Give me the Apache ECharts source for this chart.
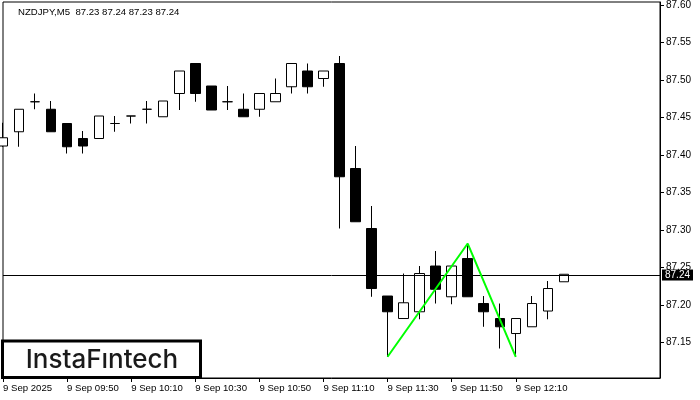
<!DOCTYPE html>
<html>
<head>
<meta charset="utf-8">
<script src="https://cdn.jsdelivr.net/npm/echarts@6/dist/echarts.min.js"></script>
<style>html,body{margin:0;padding:0;background:#fff}#c{width:700px;height:400px}</style>
</head>
<body>
<div id="c"></div>
<script>
var times = ['09:30','09:35','09:40','09:45','09:50','09:55','10:00','10:05','10:10','10:15','10:20','10:25',
  '10:30','10:35','10:40','10:45','10:50','10:55','11:00','11:05','11:10','11:15','11:20','11:25',
  '11:30','11:35','11:40','11:45','11:50','11:55','12:00','12:05','12:10','12:15','12:20','12:25'];
var opens  = [87.412,87.431,87.471,87.461,87.442,87.422,87.422,87.442,87.452,87.461,87.451,87.482,
  87.522,87.492,87.471,87.461,87.461,87.471,87.491,87.512,87.502,87.522,87.382,87.302,
  87.212,87.182,87.191,87.252,87.211,87.262,87.202,87.182,87.162,87.171,87.192,87.231];
var highs  = [87.443,87.461,87.482,87.472,87.442,87.432,87.452,87.452,87.452,87.472,87.472,87.512,
  87.522,87.492,87.492,87.482,87.482,87.502,87.522,87.522,87.512,87.532,87.412,87.332,
  87.212,87.242,87.252,87.272,87.252,87.282,87.212,87.202,87.182,87.212,87.232,87.241];
var lows   = [87.411,87.411,87.461,87.431,87.402,87.402,87.422,87.431,87.442,87.442,87.451,87.460,
  87.471,87.460,87.460,87.451,87.451,87.471,87.482,87.482,87.491,87.302,87.311,87.211,
  87.131,87.182,87.181,87.202,87.201,87.211,87.171,87.142,87.131,87.171,87.181,87.231];
var closes = [87.423,87.461,87.471,87.431,87.411,87.412,87.452,87.442,87.452,87.461,87.472,87.512,
  87.482,87.460,87.471,87.451,87.482,87.482,87.522,87.491,87.512,87.371,87.311,87.222,
  87.191,87.203,87.242,87.221,87.252,87.211,87.191,87.171,87.182,87.202,87.222,87.241];
var yTicks = [87.15,87.20,87.25,87.30,87.35,87.40,87.45,87.50,87.55,87.60];
var patternIdx = [24, 29, 32];
var symbolName = 'NZDJPY,M5';
var padCount = 6;

var cats = times.concat(new Array(padCount).fill(''));
var candleData = times.map(function(t, i){ return [opens[i], closes[i], lows[i], highs[i]]; });
var patternData = [[patternIdx[0], lows[patternIdx[0]]], [patternIdx[1], highs[patternIdx[1]]], [patternIdx[2], lows[patternIdx[2]]]];
var last = times.length - 1;
var titleText = symbolName + '  ' + opens[last].toFixed(2) + ' ' + highs[last].toFixed(2) + ' ' + lows[last].toFixed(2) + ' ' + closes[last].toFixed(2);
function showIdx(i){ return i % 4 === 0 && i < times.length; }

var chart = echarts.init(document.getElementById('c'), null, {renderer:'canvas'});
chart.setOption({
  animation: false,
  backgroundColor: '#fff',
  title: {text: titleText, left: 18, top: 7, padding: 0,
    textStyle: {fontSize: 9.6, fontWeight: 'normal', color: '#000', fontFamily: 'Liberation Sans'}},
  grid: {left: 3, right: 40, top: 2, bottom: 22, show: true, borderColor: '#000', borderWidth: 1, backgroundColor: '#fff'},
  xAxis: {type: 'category', data: cats, boundaryGap: false,
    axisLine: {lineStyle: {color: '#000', width: 1}},
    axisTick: {show: true, length: 4, interval: function(i){ return showIdx(i); }, lineStyle: {color: '#000'}},
    axisLabel: {interval: function(i){ return showIdx(i); }, align: 'left', margin: 5,
      color: '#000', fontSize: 9.6, fontFamily: 'Liberation Sans',
      formatter: function(v, i){ return i === 0 ? '9 Sep 2025' : '9 Sep ' + v; }},
    splitLine: {show: false}},
  yAxis: {type: 'value', position: 'right', min: 87.1027, max: 87.604, scale: true,
    axisLine: {show: true, lineStyle: {color: '#000'}},
    axisTick: {show: true, length: 4, customValues: yTicks, lineStyle: {color: '#000'}},
    axisLabel: {customValues: yTicks, margin: 6, color: '#000', fontSize: 10, fontFamily: 'Liberation Sans',
      formatter: function(v){ return v.toFixed(2); }},
    splitLine: {show: false}},
  graphic: [{type: 'group', z: 100, children: [
    {type: 'rect', shape: {x: 2.5, y: 341, width: 198, height: 36.5}, style: {fill: '#fff', stroke: '#000', lineWidth: 3}},
    {type: 'text', x: 102, y: 360, style: {text: 'InstaF\u0131ntech', font: '500 26px Inter', fill: '#1a1a1a', align: 'center', verticalAlign: 'middle'}}
  ]}],
  series: [
    {type: 'candlestick', data: candleData, barWidth: 10, clip: true,
      itemStyle: {color: '#fff', color0: '#000', borderColor: '#000', borderColor0: '#000', borderWidth: 1},
      markLine: {silent: true, symbol: ['none','none'],
        lineStyle: {color: '#000', type: 'solid', width: 1},
        label: {position: 'end', distance: 2, formatter: closes[last].toFixed(2), color: '#fff', backgroundColor: '#000',
          fontSize: 10, fontFamily: 'Liberation Sans', padding: [1, 3, 0, 3]},
        emphasis: {disabled: true},
        data: [{yAxis: closes[last]}]}},
    {type: 'line', data: patternData, symbol: 'none', z: 5,
      lineStyle: {color: '#00ff00', width: 2}}
  ]
});
</script>
</body>
</html>
